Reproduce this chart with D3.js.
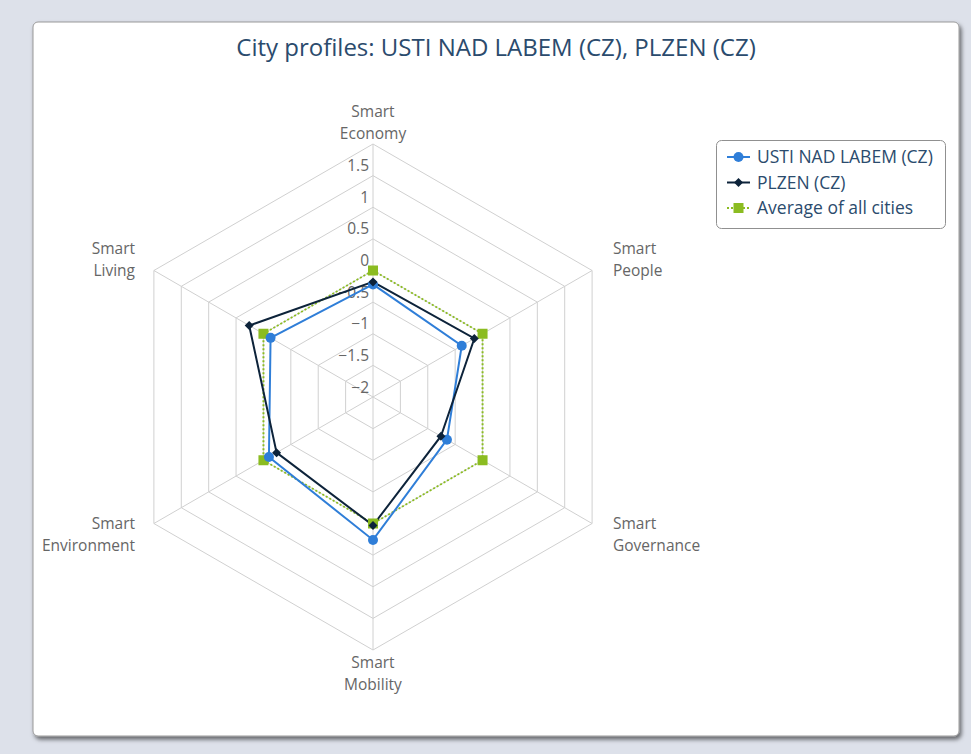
<!DOCTYPE html>
<html><head><meta charset="utf-8">
<script src="https://cdnjs.cloudflare.com/ajax/libs/d3/7.8.5/d3.min.js"></script>
<style>
html,body{margin:0;padding:0;background:#dde1ea;}
svg{display:block;}
text{font-family:"Open Sans","DejaVu Sans",sans-serif;}
</style></head>
<body>
<svg id="chart" width="971" height="754"></svg>
<script>
const categories = ["Smart Economy","Smart People","Smart Governance","Smart Mobility","Smart Environment","Smart Living"];
const seriesNames = ["USTI NAD LABEM (CZ)","PLZEN (CZ)","Average of all cities"];
const ustiValues = [-0.22,-0.38,-0.65,0.26,-0.10,-0.13];
const plzenValues = [-0.18,-0.15,-0.76,0.03,-0.24,0.26];
const averageValues = [0,0,0,0,0,0];
const tickValues = [-2,-1.5,-1,-0.5,0,0.5,1,1.5,2];
const tickLabels = ["−2","−1.5","−1","−0.5","0","0.5","1","1.5"];

const svg = d3.select("#chart");
const defs = svg.append("defs");
const f = defs.append("filter").attr("id","sh").attr("x","-5%").attr("y","-5%").attr("width","110%").attr("height","110%");
f.append("feDropShadow").attr("dx",2).attr("dy",3).attr("stdDeviation",2).attr("flood-color","#000").attr("flood-opacity",0.55);

// card
svg.append("rect").attr("x",33).attr("y",22).attr("width",926).attr("height",714).attr("rx",5)
  .attr("fill","#fff").attr("stroke","#9a9a9a").attr("stroke-width",1).attr("filter","url(#sh)");

svg.append("text").attr("x",496).attr("y",56).attr("text-anchor","middle")
  .attr("font-size",24).attr("fill","#2b4b6d").text("City profiles: USTI NAD LABEM (CZ), PLZEN (CZ)");

const cx = 373, cy = 397, R = 253;
const r = d3.scaleLinear().domain([-2,2]).range([0,R]);
const angle = d3.scalePoint().domain(categories).range([0, 2*Math.PI*(categories.length-1)/categories.length]);
const pt = (c,v) => { const a = angle(c); return [cx + r(v)*Math.sin(a), cy - r(v)*Math.cos(a)]; };

const g = svg.append("g");
const gridColor = "#d0d0d0";
// rings
tickValues.slice(1).forEach(t => {
  g.append("path").attr("d", d3.line()(categories.map(c=>pt(c,t))) + "Z")
   .attr("fill","none").attr("stroke",gridColor).attr("stroke-width",1);
});
// spokes
categories.forEach(c => {
  const p = pt(c,2);
  g.append("line").attr("x1",cx).attr("y1",cy).attr("x2",p[0]).attr("y2",p[1])
   .attr("stroke",gridColor).attr("stroke-width",1);
});
// tick labels
tickValues.slice(0,-1).forEach((t,i) => {
  g.append("text").attr("x",369).attr("y",cy - r(t) - 4.5).attr("text-anchor","end")
   .attr("font-size",15.5).attr("fill","#666").text(tickLabels[i]);
});
// category labels
const catPos = [
  {x:373,y:117,a:"middle"},{x:613,y:254,a:"start"},{x:613,y:529,a:"start"},
  {x:373,y:668,a:"middle"},{x:135,y:529,a:"end"},{x:135,y:254,a:"end"}];
categories.forEach((c,i) => {
  const parts = c.split(" ");
  const t = g.append("text").attr("x",catPos[i].x).attr("y",catPos[i].y).attr("text-anchor",catPos[i].a)
    .attr("font-size",15.5).attr("fill","#666");
  parts.forEach((p,j)=> t.append("tspan").attr("x",catPos[i].x).attr("dy", j? 22:0).text(p));
});

const colors = ["#2f7ed8","#0d233a","#8bbc21"];
const data = [ustiValues, plzenValues, averageValues];
const drawMarker = (sel, k, x, y) => {
  if (k===0) sel.append("circle").attr("cx",x).attr("cy",y).attr("r",5).attr("fill",colors[0]);
  else if (k===1) sel.append("path").attr("d",`M${x},${y-4.5}L${x+4.5},${y}L${x},${y+4.5}L${x-4.5},${y}Z`).attr("fill",colors[1]);
  else sel.append("rect").attr("x",x-5).attr("y",y-5).attr("width",10).attr("height",10).attr("fill",colors[2]);
};
[2,0,1].forEach(k => {
  const pts = categories.map((c,i)=>pt(c,data[k][i]));
  g.append("path").attr("d", d3.line()(pts)+"Z").attr("fill","none").attr("stroke",colors[k])
   .attr("stroke-width",2).attr("stroke-dasharray", k===2 ? "2,2" : null);
});
[2,0,1].forEach(k => {
  categories.forEach((c,i)=>{ const p = pt(c,data[k][i]); drawMarker(g,k,p[0],p[1]); });
});

// legend
const lg = svg.append("g");
lg.append("rect").attr("x",716.5).attr("y",140.5).attr("width",229).attr("height",88).attr("rx",5)
  .attr("fill","#fff").attr("stroke","#909090").attr("stroke-width",1);
seriesNames.forEach((n,k)=>{
  const y = 157 + k*25.5;
  lg.append("line").attr("x1",727).attr("x2",750).attr("y1",y).attr("y2",y).attr("stroke",colors[k])
    .attr("stroke-width",2).attr("stroke-dasharray", k===2 ? "2,2" : null);
  drawMarker(lg,k,738.5,y);
  lg.append("text").attr("x",757).attr("y",y+6).attr("font-size",17.5).attr("fill","#2b4b6d").text(n);
});
</script>
</body></html>
